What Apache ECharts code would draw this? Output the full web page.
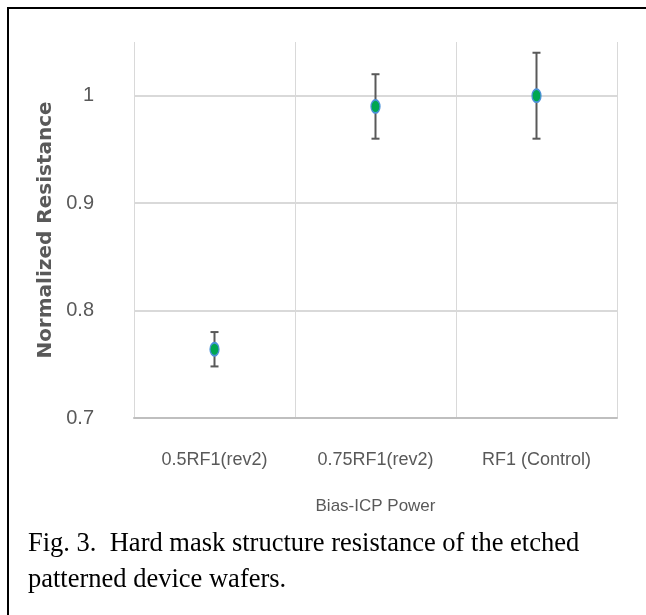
<!DOCTYPE html>
<html>
<head>
<meta charset="utf-8">
<script src="https://cdn.jsdelivr.net/npm/echarts@6/dist/echarts.min.js"></script>
<style>
  html, body { margin: 0; padding: 0; background: #fff; }
  #chart { width: 646px; height: 615px; }
</style>
</head>
<body>
<div id="chart"></div>
<script>
// data
const categories = ['0.5RF1(rev2)', '0.75RF1(rev2)', 'RF1 (Control)']
const meanValues = [0.764, 0.990, 1.000]
const upperValues = [0.780, 1.020, 1.040]
const lowerValues = [0.748, 0.960, 0.960]
const yTicks = [0.7, 0.8, 0.9, 1]

const chart = echarts.init(document.getElementById('chart'))

const sans = '"Liberation Sans", sans-serif'
const gridColor = '#d9d9d9'

const option = {
  animation: false,
  title: {
    text: 'Fig. 3.  Hard mask structure resistance of the etched\npatterned device wafers.',
    left: 23,
    top: 521,
    textStyle: {
      fontFamily: '"Liberation Serif", serif',
      fontWeight: 'normal',
      fontSize: 26.5,
      lineHeight: 36,
      color: '#000'
    }
  },
  grid: { left: 134, right: 29, top: 42, bottom: 197 },
  xAxis: {
    type: 'category',
    data: categories,
    name: 'Bias-ICP Power',
    nameLocation: 'middle',
    nameGap: 80,
    nameTextStyle: { fontFamily: sans, fontSize: 17, color: '#595959' },
    axisLine: { lineStyle: { color: '#bfbfbf', width: 2 } },
    axisTick: { show: false },
    axisLabel: { interval: 0, margin: 33, fontFamily: sans, fontSize: 18, color: '#595959' },
    splitLine: { show: true, interval: 0, lineStyle: { color: gridColor, width: 1 } }
  },
  yAxis: {
    type: 'value',
    min: 0.7,
    max: 1.05,
    interval: 0.1,
    name: 'Normalized Resistance',
    nameLocation: 'middle',
    nameGap: 66,
    nameTextStyle: { fontFamily: '"DejaVu Sans", sans-serif', fontWeight: 'bold', fontSize: 20, color: '#595959' },
    axisLine: { show: false },
    axisTick: { show: false },
    axisLabel: {
      margin: 40,
      fontFamily: sans,
      fontSize: 20,
      color: '#595959',
      showMaxLabel: false,
      formatter: v => (yTicks.some(t => Math.abs(t - v) < 1e-6) ? String(Math.round(v * 10) / 10) : '')
    },
    splitLine: { lineStyle: { color: [gridColor, gridColor, gridColor, gridColor, 'rgba(0,0,0,0)'], width: 2 } }
  },
  series: [
    {
      type: 'custom',
      z: 3,
      renderItem: (params, api) => {
        const x = api.coord([api.value(0), api.value(1)])[0]
        const top = api.coord([api.value(0), api.value(1)])[1]
        const bot = api.coord([api.value(0), api.value(2)])[1]
        const cap = 4
        const style = { stroke: '#595959', lineWidth: 2 }
        return {
          type: 'group',
          children: [
            { type: 'line', shape: { x1: x, y1: top, x2: x, y2: bot }, style },
            { type: 'line', shape: { x1: x - cap, y1: top, x2: x + cap, y2: top }, style },
            { type: 'line', shape: { x1: x - cap, y1: bot, x2: x + cap, y2: bot }, style }
          ]
        }
      },
      data: categories.map((c, i) => [i, upperValues[i], lowerValues[i]])
    },
    {
      type: 'scatter',
      z: 4,
      symbol: 'circle',
      symbolSize: [9, 13],
      itemStyle: { color: '#00a651', borderColor: '#4a90d9', borderWidth: 1.5, opacity: 1 },
      data: meanValues
    }
  ],
  graphic: [
    { type: 'line', shape: { x1: 8, y1: 8, x2: 646, y2: 8 }, style: { stroke: '#000', lineWidth: 2 } },
    { type: 'line', shape: { x1: 8, y1: 7, x2: 8, y2: 615 }, style: { stroke: '#000', lineWidth: 2 } }
  ]
}

chart.setOption(option)
</script>
</body>
</html>
